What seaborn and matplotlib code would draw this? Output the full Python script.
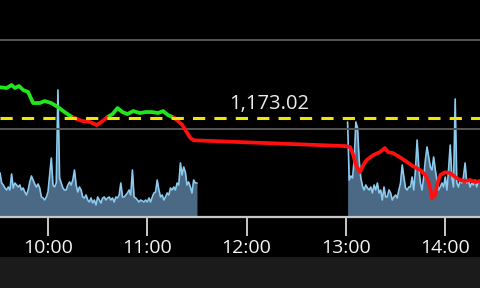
import numpy as np
import pandas as pd
import matplotlib
matplotlib.use("Agg")
import matplotlib.pyplot as plt
import seaborn as sns
from matplotlib.patches import Rectangle

sns.set_style("dark")
plt.rcParams['font.family'] = ['Open Sans', 'DejaVu Sans']

# ---------------- data ----------------
# time axis: minutes since 09:30 (market clock, lunch break 11:30-13:00)
tick_minutes = [30, 90, 150, 210, 270]
tick_labels = ["10:00", "11:00", "12:00", "13:00", "14:00"]

ref_level = 1173.02
ref_label = "1,173.02"

price_minutes = [0, 5, 8, 10, 12.5, 15, 18, 21, 25, 28, 32, 36, 40, 44.5, 47.5, 51,
                 55.5, 59.5, 63, 66, 69, 72, 75, 78, 81.5, 85.5, 89, 93, 96.5, 99.5,
                 102.5, 106.5, 108.5, 111, 113.5, 116, 118, 120,
                 210, 212.5, 214.5, 216, 218.5, 220.5, 222.5, 226.5, 230.5, 233.5,
                 235.5, 238.5, 242.5, 247, 250.5, 255, 258, 259.5, 261, 262, 264,
                 265, 267, 270, 273, 276, 279, 282, 285, 288, 291]
price_values = [1175.78, 1175.69, 1175.96, 1175.69, 1175.87, 1175.51, 1175.33, 1174.34,
                1174.34, 1174.52, 1174.34, 1173.98, 1173.53, 1173.08, 1172.90, 1172.72,
                1172.63, 1172.36, 1172.72, 1173.08, 1173.35, 1173.89, 1173.53, 1173.35,
                1173.62, 1173.44, 1173.53, 1173.53, 1173.44, 1173.62, 1173.26, 1172.99,
                1172.72, 1172.40, 1171.80, 1171.20, 1171.00, 1170.98,
                1170.47, 1170.38, 1169.66, 1168.76, 1168.13, 1168.76, 1169.21, 1169.66,
                1169.93, 1170.29, 1169.93, 1169.84, 1169.48, 1169.03, 1168.67, 1168.31,
                1167.87, 1167.42, 1166.70, 1165.80, 1166.07, 1166.97, 1167.87, 1168.13,
                1168.04, 1167.69, 1167.42, 1167.33, 1167.42, 1167.24, 1167.33]

# per-minute volume (hundreds of lots), morning 09:30-11:30
vol_morning = [420,
               440, 340, 320, 290, 270, 300, 270, 430, 290, 340, 320, 300, 320, 270, 290,
               250, 220, 270, 350, 410, 370, 330, 300, 330, 290, 200, 190, 170, 200, 250,
               420, 590, 320, 300, 340, 1270, 390, 340, 290, 270, 270, 320, 350, 320, 370,
               470, 320, 250, 300, 270, 200, 190, 220, 170, 150, 190, 140, 170, 120, 200,
               170,
               140, 190, 200, 170, 190, 200, 170, 190, 150, 200, 190, 220, 340, 200, 200,
               220, 240, 270, 220, 470, 200, 190, 170, 150, 170, 160, 150, 170, 150, 190,
               150, 200, 240, 250, 370, 270, 200, 220, 170, 200, 240, 220, 290, 270, 300,
               270, 340, 320, 540, 420, 500, 450, 320, 350, 300, 240, 370, 340, 340]
# afternoon 13:01 onwards
vol_afternoon = [950, 370, 410, 390, 570, 950, 890, 570, 390, 310, 270, 320, 290, 270,
                 300, 240, 320, 270, 340, 240, 270, 170, 300, 200, 200, 270, 240, 170,
                 200, 220, 190, 270, 340, 520, 400, 290, 270, 300, 300, 400, 270, 470,
                 770, 500, 340, 270, 400, 570, 700, 600, 500, 470, 600, 470, 370, 270,
                 300, 340, 300, 400, 270, 470, 720, 400, 300, 1180, 340, 300, 370, 340,
                 400, 540, 340, 370, 300, 340, 320, 370, 300, 350, 350]
vol_morning_start = 0
vol_afternoon_start = 211

# ---------------- build tables ----------------
def split_by_level(t, p, level):
    rows = []
    seg = 0
    side = p[0] >= level
    rows.append((t[0], p[0], seg, side))
    for i in range(1, len(t)):
        s = p[i] >= level
        if s != side:
            f = (level - p[i - 1]) / (p[i] - p[i - 1])
            tc = t[i - 1] + f * (t[i] - t[i - 1])
            rows.append((tc, level, seg, side))
            seg += 1
            side = s
            rows.append((tc, level, seg, side))
        rows.append((t[i], p[i], seg, side))
    df = pd.DataFrame(rows, columns=["minute", "price", "seg", "above"])
    df["side"] = np.where(df["above"], "above", "below")
    return df

price_df = split_by_level(price_minutes, price_values, ref_level)

vol_df = pd.concat([
    pd.DataFrame({"minute": vol_morning_start + np.arange(len(vol_morning)),
                  "vol": vol_morning, "session": "am"}),
    pd.DataFrame({"minute": vol_afternoon_start + np.arange(len(vol_afternoon)),
                  "vol": vol_afternoon, "session": "pm"}),
], ignore_index=True)

# ---------------- figure ----------------
fig = plt.figure(figsize=(4.8, 2.88), dpi=100, facecolor="black")
fig.patches.append(Rectangle((0, 0), 1, 31 / 288, transform=fig.transFigure,
                             facecolor="#1b1b1b", edgecolor="none", zorder=0))

ax = fig.add_axes([0, 1 - 217 / 288, 1, 217 / 288])   # price axis
ax2 = ax.twinx()                                         # volume axis
ax2.set_zorder(ax.get_zorder() - 1)
ax.patch.set_visible(False)
ax2.patch.set_facecolor("black")

# volume
for sess, sub in vol_df.groupby("session"):
    ax2.fill_between(sub["minute"], 0, sub["vol"], color="#4b6885", linewidth=0)
sns.lineplot(data=vol_df, x="minute", y="vol", units="session", estimator=None,
             color="#8ccbf0", linewidth=1.2, ax=ax2, legend=False)
ax2.set_ylim(0, 2170)

# grid lines on price scale
ax.set_ylim(1164.1, 1183.6)
for g in [1172, 1180]:
    ax.axhline(g, color="#555555", linewidth=1.4, zorder=1)

# price line
sns.lineplot(data=price_df, x="minute", y="price", hue="side", units="seg",
             estimator=None, sort=False, palette={"above": "#22e61c", "below": "#ff1010"},
             linewidth=2.7, ax=ax, legend=False, zorder=4)

# reference level
ax.axhline(ref_level, color="#f2e600", linewidth=2.2, dashes=(4, 3), zorder=5)
ax.annotate(ref_label, xy=(163.5, ref_level), xytext=(0, 3),
            textcoords="offset points", ha="center", va="bottom",
            color="#ececec", fontsize=14.5)

ax.set_xlim(1, 291)
ax.set_xticks(tick_minutes)
ax.set_xticklabels(tick_labels)
ax.tick_params(axis="x", colors="#c8c8c8", length=14, width=1.4, pad=2,
               labelcolor="#f4f4f4", labelsize=14, direction="out", bottom=True)
ax.set_yticks([])
ax2.set_yticks([])
ax.set_xlabel("")
ax.set_ylabel("")
ax2.set_xlabel("")
ax2.set_ylabel("")
ax.grid(False)
ax2.grid(False)
for name, sp in ax.spines.items():
    sp.set_visible(name == "bottom")
ax.spines["bottom"].set_color("#c8c8c8")
ax.spines["bottom"].set_linewidth(1.6)
for sp in ax2.spines.values():
    sp.set_visible(False)

fig.savefig("out.png", dpi=100, facecolor="black")
